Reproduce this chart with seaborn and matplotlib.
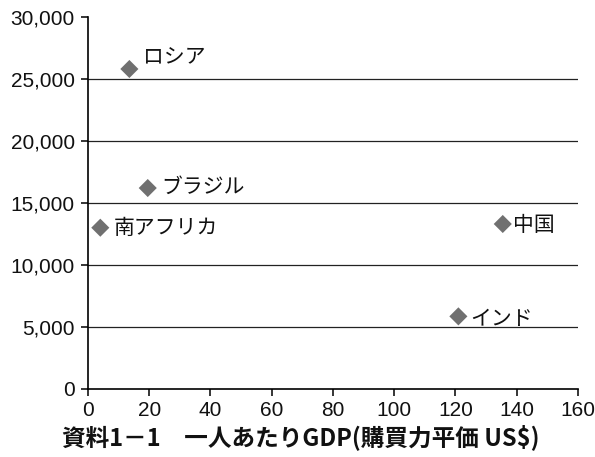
import matplotlib
matplotlib.use('Agg')
import matplotlib.pyplot as plt
import matplotlib.ticker as mticker
import pandas as pd
import seaborn as sns

# values
countries = ['ロシア', 'ブラジル', '南アフリカ', '中国', 'インド']
x_vals = [13.5, 19.5, 4.0, 135.5, 121.0]
gdp_ppp = [25800, 16200, 13000, 13300, 5850]

df = pd.DataFrame({'country': countries, 'x': x_vals, 'gdp': gdp_ppp})

sns.set_theme(style='white')
plt.rcParams['font.family'] = ['Noto Sans CJK JP', 'DejaVu Sans']

fig, ax = plt.subplots(figsize=(5.95, 4.57), dpi=100)
fig.subplots_adjust(left=0.148, right=0.971, top=0.963, bottom=0.149)

sns.scatterplot(data=df, x='x', y='gdp', marker='D', s=85, color='#707070',
                edgecolor='none', ax=ax, zorder=3)

# labels next to the markers
offsets = {'ロシア': (10, 9), 'ブラジル': (10, 1), '南アフリカ': (10, -0.5),
           '中国': (7.5, -1), 'インド': (8.5, -2)}
for name, xv, yv in zip(countries, x_vals, gdp_ppp):
    ax.annotate(name, (xv, yv), xytext=offsets[name], textcoords='offset points',
                fontsize=15, va='center', ha='left', color='#111111')

ax.set_xlim(0, 160)
ax.set_ylim(0, 30000)
ax.set_xticks(range(0, 161, 20))
ax.set_yticks(range(0, 30001, 5000))
ax.yaxis.set_major_formatter(mticker.FuncFormatter(lambda v, p: f'{int(v):,}'))

for yv in range(5000, 30000, 5000):
    ax.axhline(yv, color='#222222', lw=0.9, zorder=1)

for side in ['top', 'right']:
    ax.spines[side].set_visible(False)
for side in ['left', 'bottom']:
    ax.spines[side].set_color('black')
    ax.spines[side].set_linewidth(1.2)

ax.tick_params(axis='both', direction='out', length=5, width=1.1, color='black',
               labelsize=15, labelcolor='#111111', bottom=True, left=True)
ax.tick_params(axis='y', pad=4.5)
ax.tick_params(axis='x', pad=3.5)
for lab in ax.get_xticklabels() + ax.get_yticklabels():
    lab.set_fontfamily(['Liberation Sans', 'DejaVu Sans'])
ax.set_xlabel('')
ax.set_ylabel('')

fig.text(0.505, 0.015, '資料1－1　一人あたりGDP(購買力平価 US$)', ha='center', va='bottom',
         fontsize=17, fontweight='bold', color='#111111')

fig.savefig('out.png', dpi=100)
